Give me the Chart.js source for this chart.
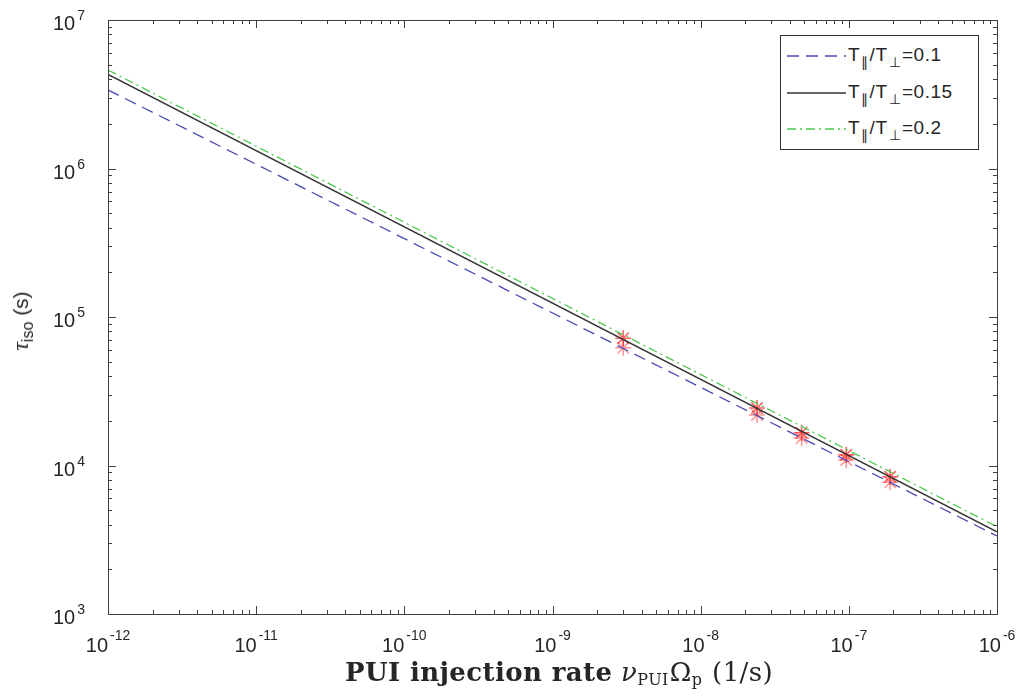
<!DOCTYPE html>
<html>
<head>
<meta charset="utf-8">
<script src="https://cdn.jsdelivr.net/npm/chart.js@4.4.0/dist/chart.umd.min.js"></script>
<style>
  body { margin: 0; background: #fff; }
  #wrap { position: relative; width: 1024px; height: 696px; }
  #legend {
    position: absolute; left: 780px; top: 35px; width: 199px; height: 115px;
    box-sizing: border-box; border: 1px solid #333; background: #fff;
    font-family: "Liberation Sans", Arial, sans-serif; font-size: 19px; color: #262626;
  }
  .row { position: absolute; left: 5px; height: 20px; white-space: nowrap; }
  .row svg { position: absolute; left: 0; top: 5px; }
  .row span.t { position: absolute; left: 62px; top: -1px; line-height: 20px; letter-spacing: 0.5px; }
  .row sub { font-size: 14px; vertical-align: -6px; margin: 0 1px; }
  #xtitle {
    position: absolute; left: 0; width: 1118px; top: 657px; text-align: center;
    font-family: "DejaVu Serif", serif; font-size: 26px; letter-spacing: 0.4px;
    color: #262626; white-space: nowrap;
  }
  #xtitle b { font-weight: bold; }
  #xtitle sub { font-size: 16px; vertical-align: -4px; margin-right: 1px; }
  #ytitle {
    position: absolute; left: 22px; top: 321px; transform: translate(-50%, -50%) rotate(-90deg);
    font-family: "Liberation Sans", Arial, sans-serif; font-size: 21px; color: #262626; white-space: nowrap;
  }
  #ytitle i { font-family: "Liberation Serif", serif; font-size: 24px; }
  #ytitle sub { font-size: 16px; vertical-align: -5px; }
</style>
</head>
<body>
<div id="wrap">
  <canvas id="chart" width="1024" height="696"></canvas>
  <div id="legend">
    <div class="row" style="top:10px">
      <svg width="60" height="10"><line x1="1" y1="5" x2="60" y2="5" stroke="#4b4bb4" stroke-width="1.3" stroke-dasharray="12,7"/></svg>
      <span class="t">T<sub>∥</sub>/T<sub>⊥</sub>=0.1</span>
    </div>
    <div class="row" style="top:47px">
      <svg width="60" height="10"><line x1="1" y1="5" x2="60" y2="5" stroke="#333" stroke-width="1.5"/></svg>
      <span class="t">T<sub>∥</sub>/T<sub>⊥</sub>=0.15</span>
    </div>
    <div class="row" style="top:83px">
      <svg width="60" height="10"><line x1="1" y1="5" x2="60" y2="5" stroke="#4fc94f" stroke-width="1.3" stroke-dasharray="9,4,2,4"/></svg>
      <span class="t">T<sub>∥</sub>/T<sub>⊥</sub>=0.2</span>
    </div>
  </div>
  <div id="xtitle"><b>PUI injection rate</b> <i>ν</i><sub>PUI</sub>Ω<sub>p</sub> (1/s)</div>
  <div id="ytitle"><i>τ</i><sub>iso</sub> (s)</div>
</div>
<script>
// line end points (1/s) and isotropisation times (s)
const rateEnds = [1e-12, 1e-6];
const tauRatio010 = [3.38e6, 3.35e3];
const tauRatio015 = [4.3e6, 3.58e3];
const tauRatio020 = [4.6e6, 3.87e3];

// simulation points (red asterisks)
const simRates = [3e-9, 2.4e-8, 4.8e-8, 9.6e-8, 1.9e-7];
const simTauUpper = [7.2e4, 2.44e4, 1.66e4, 1.18e4, 8.4e3];
const simTauLower = [6.2e4, 2.19e4, 1.53e4, 1.09e4, 7.7e3];

const xMin = 1e-12, xMax = 1e-6;
const yMin = 1e3, yMax = 1e7;

function pts(xs, ys) {
    return xs.map((x, i) => ({ x: x, y: ys[i] }));
}

// MATLAB style box with inward ticks and 10^n labels
const axisBox = {
    id: 'axisBox',
    afterDraw(chart) {
        const ctx = chart.ctx;
        const a = chart.chartArea;
        const xs = chart.scales.x, ys = chart.scales.y;
        ctx.save();
        ctx.strokeStyle = '#404040';
        ctx.lineWidth = 1;
        ctx.strokeRect(Math.round(a.left) + 0.5, Math.round(a.top) + 0.5,
            Math.round(a.right - a.left), Math.round(a.bottom - a.top));

        function decadeTicks(lo, hi, cb) {
            for (let e = Math.round(Math.log10(lo)); e <= Math.round(Math.log10(hi)); e++) {
                for (let m = 1; m <= 9; m++) {
                    const v = m * Math.pow(10, e);
                    if (v < lo * 0.999 || v > hi * 1.001) continue;
                    cb(v, m === 1, e);
                }
            }
        }

        ctx.beginPath();
        decadeTicks(xMin, xMax, (v, major) => {
            const px = Math.round(xs.getPixelForValue(v)) + 0.5;
            const len = major ? 8 : 4;
            ctx.moveTo(px, a.bottom); ctx.lineTo(px, a.bottom - len);
            ctx.moveTo(px, a.top); ctx.lineTo(px, a.top + len);
        });
        decadeTicks(yMin, yMax, (v, major) => {
            const py = Math.round(ys.getPixelForValue(v)) + 0.5;
            const len = major ? 8 : 4;
            ctx.moveTo(a.left, py); ctx.lineTo(a.left + len, py);
            ctx.moveTo(a.right, py); ctx.lineTo(a.right - len, py);
        });
        ctx.stroke();

        ctx.fillStyle = '#262626';
        ctx.textBaseline = 'alphabetic';
        const big = '20px "Liberation Sans", Arial, sans-serif';
        const small = '14px "Liberation Sans", Arial, sans-serif';
        decadeTicks(xMin, xMax, (v, major, e) => {
            if (!major) return;
            const px = xs.getPixelForValue(v);
            ctx.font = big;
            const w1 = ctx.measureText('10').width;
            ctx.font = small;
            const w2 = ctx.measureText(String(e)).width;
            const x0 = px - (w1 + w2 + 2) / 2;
            ctx.font = big;
            ctx.textAlign = 'left';
            ctx.fillText('10', x0, 652);
            ctx.font = small;
            ctx.fillText(String(e), x0 + w1 + 2, 640);
        });
        decadeTicks(yMin, yMax, (v, major, e) => {
            if (!major) return;
            const py = ys.getPixelForValue(v);
            ctx.font = small;
            const w2 = ctx.measureText(String(e)).width;
            ctx.font = big;
            const w1 = ctx.measureText('10').width;
            const xr = a.left - 23;
            ctx.textAlign = 'left';
            ctx.fillText('10', xr - w2 - 2 - w1, py + 10);
            ctx.font = small;
            ctx.fillText(String(e), xr - w2, py);
        });
        ctx.restore();
    }
};

const ctx = document.getElementById('chart').getContext('2d');
new Chart(ctx, {
    type: 'scatter',
    data: {
        datasets: [
            {
                label: 'T||/T⊥=0.1',
                data: pts(rateEnds, tauRatio010),
                showLine: true,
                borderColor: '#4b4bb4',
                borderWidth: 1.3,
                borderDash: [12, 7],
                pointRadius: 0,
                fill: false
            },
            {
                label: 'T||/T⊥=0.15',
                data: pts(rateEnds, tauRatio015),
                showLine: true,
                borderColor: '#333333',
                borderWidth: 1.5,
                pointRadius: 0,
                fill: false
            },
            {
                label: 'T||/T⊥=0.2',
                data: pts(rateEnds, tauRatio020),
                showLine: true,
                borderColor: '#4fc94f',
                borderWidth: 1.3,
                borderDash: [9, 4, 2, 4],
                pointRadius: 0,
                fill: false
            },
            {
                label: 'sim upper',
                data: pts(simRates, simTauUpper),
                showLine: false,
                pointStyle: 'star',
                pointRadius: 8,
                borderColor: 'rgba(255, 0, 0, 0.6)',
                borderWidth: 1.6
            },
            {
                label: 'sim lower',
                data: pts(simRates, simTauLower),
                showLine: false,
                pointStyle: 'star',
                pointRadius: 8,
                borderColor: 'rgba(255, 20, 20, 0.45)',
                borderWidth: 1.5
            }
        ]
    },
    options: {
        responsive: false,
        animation: false,
        layout: { padding: { left: 108, top: 20, right: 27, bottom: 82 } },
        plugins: {
            legend: { display: false },
            tooltip: { enabled: false }
        },
        scales: {
            x: {
                type: 'logarithmic',
                min: xMin,
                max: xMax,
                grid: { display: false, drawTicks: false },
                border: { display: false },
                ticks: { display: false }
            },
            y: {
                type: 'logarithmic',
                min: yMin,
                max: yMax,
                grid: { display: false, drawTicks: false },
                border: { display: false },
                ticks: { display: false }
            }
        }
    },
    plugins: [axisBox]
});
</script>
</body>
</html>
